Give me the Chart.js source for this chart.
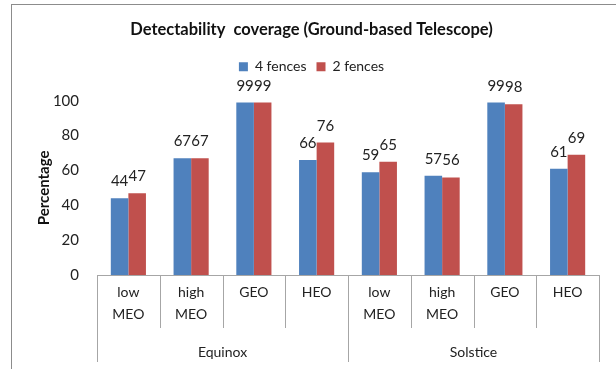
<!DOCTYPE html>
<html>
<head>
<meta charset="utf-8">
<script src="https://cdn.jsdelivr.net/npm/chart.js@4"></script>
<style>
    body { margin: 0; background: #fff; }
    #wrap { position: relative; width: 616px; height: 370px; }
    #frame { position: absolute; left: 11px; top: 4px; width: 620px; height: 364px; border-left: 1px solid #8c8c8c; border-top: 1px solid #8c8c8c; }
    #chart { position: absolute; left: 0; top: 0; }
</style>
</head>
<body>
<div id="wrap">
    <div id="frame"></div>
    <canvas id="chart" width="616" height="370"></canvas>
</div>
<script>
const categories = [["low", "MEO"], ["high", "MEO"], "GEO", "HEO", ["low", "MEO"], ["high", "MEO"], "GEO", "HEO"];
const groups = ["Equinox", "Solstice"];
const fences4 = [44, 67, 99, 66, 59, 57, 99, 61];
const fences2 = [47, 67, 99, 76, 65, 56, 98, 69];
const yTicks = [0, 20, 40, 60, 80, 100];

const fontName = "Lato, 'Open Sans', sans-serif";

// push the plot down a bit below the legend
const legendSpace = {
    id: "legendSpace",
    beforeInit(chart) {
        const fit = chart.legend.fit;
        chart.legend.fit = function () {
            fit.bind(chart.legend)();
            this.height += 17;
        };
    }
};

// numbers on top of the bars
const barLabels = {
    id: "barLabels",
    afterDatasetsDraw(chart) {
        const ctx = chart.ctx;
        ctx.save();
        ctx.font = "15px " + fontName;
        ctx.fillStyle = "#222";
        ctx.textAlign = "center";
        ctx.textBaseline = "alphabetic";
        chart.data.datasets.forEach((ds, d) => {
            chart.getDatasetMeta(d).data.forEach((bar, i) => {
                ctx.fillText(ds.data[i], bar.x, bar.y - 12);
            });
        });
        ctx.restore();
    }
};

// category separators and the Equinox / Solstice row
const groupAxis = {
    id: "groupAxis",
    afterDraw(chart) {
        const ctx = chart.ctx;
        const x = chart.scales.x;
        const step = (x.right - x.left) / categories.length;
        const perGroup = categories.length / groups.length;
        ctx.save();
        ctx.strokeStyle = "#a6a6a6";
        ctx.lineWidth = 1;
        for (let i = 0; i <= categories.length; i++) {
            const px = Math.round(x.getPixelForValue(i) - step / 2) + 0.5;
            const len = i % perGroup == 0 ? 87 : 53;
            ctx.beginPath();
            ctx.moveTo(px, x.top);
            ctx.lineTo(px, x.top + len);
            ctx.stroke();
        }
        ctx.font = "14px " + fontName;
        ctx.fillStyle = "#222";
        ctx.textAlign = "center";
        ctx.textBaseline = "middle";
        groups.forEach((g, k) => {
            const a = x.getPixelForValue(k * perGroup) - step / 2;
            const b = x.getPixelForValue((k + 1) * perGroup - 1) + step / 2;
            ctx.fillText(g, (a + b) / 2, x.top + 77);
        });
        ctx.restore();
    }
};

const ctx = document.getElementById("chart").getContext("2d");
const chart = new Chart(ctx, {
    type: "bar",
    data: {
        labels: categories,
        datasets: [{
            label: "4 fences",
            data: fences4,
            backgroundColor: "#4F81BD",
        }, {
            label: "2 fences",
            data: fences2,
            backgroundColor: "#C0504D",
        }]
    },
    options: {
        responsive: false,
        animation: false,
        layout: { padding: { top: 19, left: 24, right: 17, bottom: 0 } },
        datasets: { bar: { categoryPercentage: 0.56, barPercentage: 1 } },
        plugins: {
            title: {
                display: true,
                text: "Detectability  coverage (Ground-based Telescope)",
                color: "#111",
                font: { family: fontName, size: 16.5, weight: "bold" },
                padding: { top: 1, bottom: 10 }
            },
            legend: {
                labels: {
                    color: "#222",
                    font: { family: fontName, size: 14 },
                    boxWidth: 9,
                    boxHeight: 9,
                    padding: 10
                }
            },
            tooltip: { enabled: false }
        },
        scales: {
            x: {
                grid: { display: false },
                border: { color: "#a6a6a6" },
                ticks: {
                    color: "#222",
                    font: { family: fontName, size: 14, lineHeight: 1.55 },
                    maxRotation: 0,
                    autoSkip: false,
                    padding: -1
                },
                afterFit(scale) { scale.height = 95; }
            },
            y: {
                min: 0,
                max: 100,
                grid: { display: false },
                border: { display: false },
                afterBuildTicks(scale) { scale.ticks = yTicks.map(v => ({ value: v })); },
                ticks: {
                    color: "#222",
                    font: { family: fontName, size: 15 },
                    padding: 10
                },
                title: {
                    display: true,
                    text: "Percentage",
                    color: "#111",
                    font: { family: fontName, size: 15, weight: "bold" },
                    padding: { top: 11, bottom: 0 }
                },
                afterFit(scale) { scale.width = 73; }
            }
        }
    },
    plugins: [legendSpace, barLabels, groupAxis]
});
</script>
</body>
</html>
